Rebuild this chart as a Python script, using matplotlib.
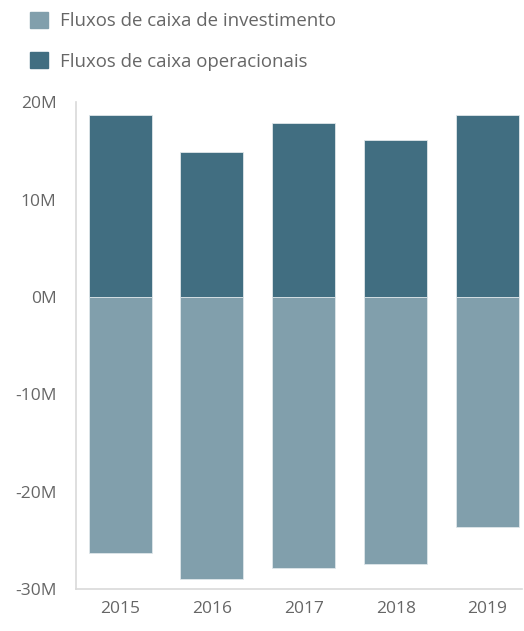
import matplotlib.pyplot as plt
from matplotlib.patches import Patch

plt.rcParams['font.family'] = ['Open Sans', 'DejaVu Sans']

anos = ['2015', '2016', '2017', '2018', '2019']
operacionais = [18.7, 14.9, 17.9, 16.1, 18.7]
investimento = [-26.3, -29.0, -27.8, -27.4, -23.6]
yticks = [20, 10, 0, -10, -20, -30]
ylabels = ['20M', '10M', '0M', '-10M', '-20M', '-30M']

cor_inv = '#819fac'
cor_op = '#416e81'
cinza = '#666666'

fig = plt.figure(figsize=(5.24, 6.31), dpi=100)
ax = fig.add_axes([0.145, 0.0666, 0.852, 0.7714])

x = range(len(anos))
ax.bar(x, investimento, width=0.685, color=cor_inv, edgecolor='#dfe7ea', linewidth=0.6)
ax.bar(x, operacionais, width=0.685, color=cor_op, edgecolor='#dfe7ea', linewidth=0.6)

ax.set_ylim(-30, 20)
ax.set_xlim(-0.48, 4.38)
ax.set_yticks(yticks)
ax.set_yticklabels(ylabels)
ax.set_xticks(list(x))
ax.set_xticklabels(anos)
ax.tick_params(length=0, labelsize=12.5, labelcolor=cinza)
ax.tick_params(axis='y', pad=14)
ax.tick_params(axis='x', pad=9)
for s in ['top', 'right']:
    ax.spines[s].set_visible(False)
for s in ['left', 'bottom']:
    ax.spines[s].set_color('#d9d9d9')
    ax.spines[s].set_linewidth(1.2)

handles = [Patch(color=cor_inv, label='Fluxos de caixa de investimento'),
           Patch(color=cor_op, label='Fluxos de caixa operacionais')]
leg = fig.legend(handles=handles, loc='upper left', bbox_to_anchor=(0.025, 1.008),
                 frameon=False, fontsize=13.4, handlelength=1.0, handleheight=1.0,
                 handletextpad=0.6, labelspacing=1.15, labelcolor=cinza)

plt.savefig('out.png', dpi=100)
